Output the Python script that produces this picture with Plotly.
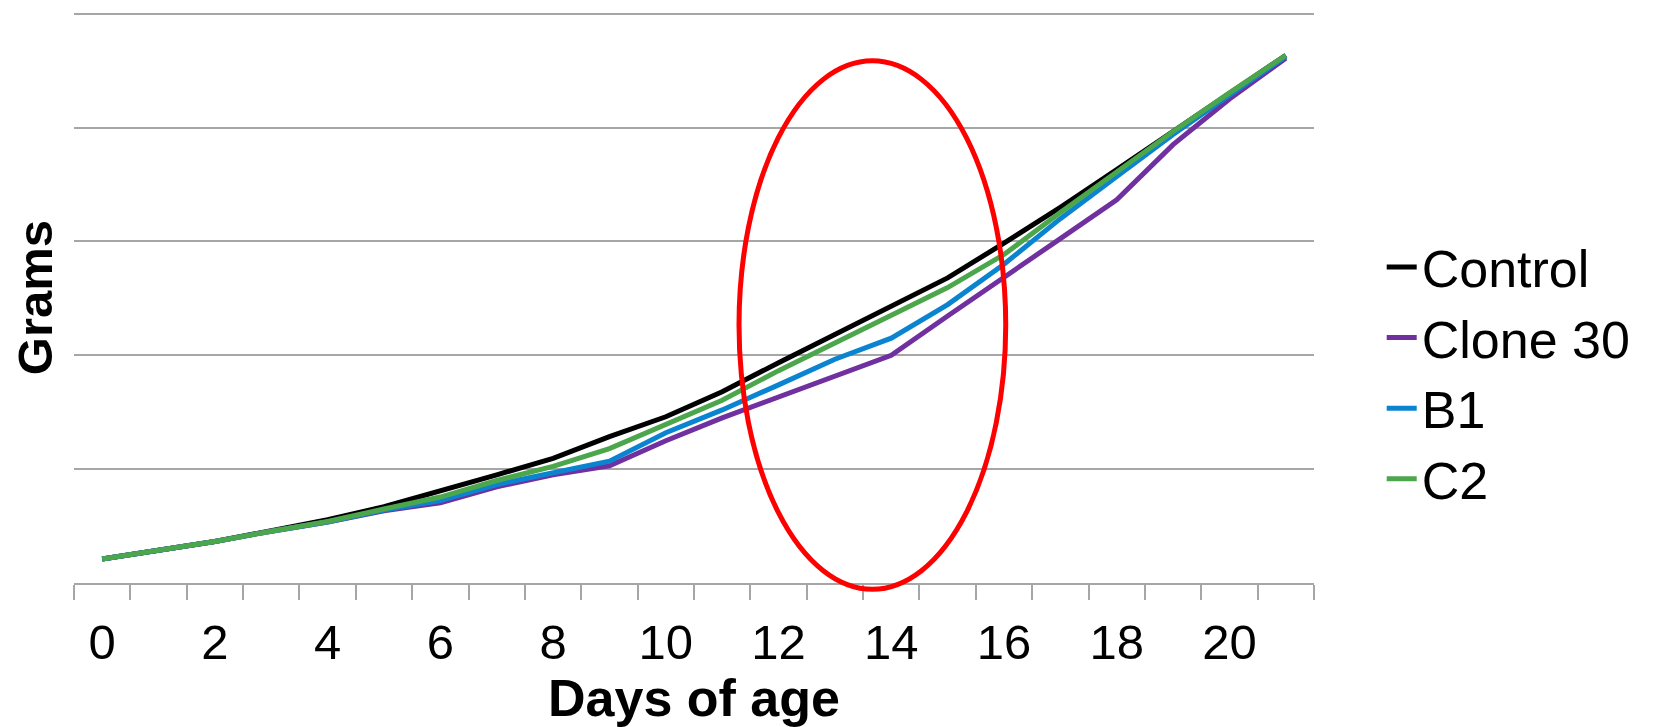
import plotly.graph_objects as go

days = list(range(22))
control = [42, 57, 73, 92, 111, 134, 161, 190, 219, 257, 292, 336, 387, 436, 486, 536, 597, 660, 726, 793, 861, 927]
clone30 = [42, 57, 73, 91, 107, 127, 141, 169, 190, 206, 250, 290, 326, 363, 400, 469, 538, 605, 673, 770, 850, 922]
b1 = [42, 57, 73, 91, 107, 128, 145, 173, 194, 214, 264, 304, 348, 393, 430, 489, 560, 640, 714, 788, 857, 925]
c2 = [42, 57, 73, 91, 108, 130, 151, 180, 205, 236, 279, 321, 373, 421, 470, 519, 577, 651, 722, 793, 861, 927]
tick_days = [0, 2, 4, 6, 8, 10, 12, 14, 16, 18, 20]
tick_labels = [str(d) for d in tick_days]

series = [
    ("Control", control, "#000000"),
    ("Clone 30", clone30, "#7030A0"),
    ("B1", b1, "#0A84D0"),
    ("C2", c2, "#4CA64C"),
]

FONT = "Liberation Sans, Arial, sans-serif"

fig = go.Figure()
for name, vals, col in series:
    fig.add_trace(go.Scatter(x=days, y=vals, name=name, mode="lines",
                             line=dict(color=col, width=5)))

fig.update_layout(
    width=1655, height=719,
    margin=dict(l=66, r=349, t=4, b=144, autoexpand=False),
    paper_bgcolor="white", plot_bgcolor="white",
    font=dict(family=FONT, color="black", size=48),
    showlegend=True,
    legend=dict(x=1.0546, y=0.624, xanchor="left", yanchor="top",
                font=dict(size=52, family=FONT), bgcolor="rgba(0,0,0,0)",
                tracegroupgap=0),
    xaxis=dict(
        range=[-0.5, 21.5], tickmode="array", tickvals=tick_days, ticktext=tick_labels,
        ticks="", ticklabelstandoff=15, automargin=False,
        tickfont=dict(size=49, family=FONT),
        minor=dict(tick0=-0.5, dtick=1, ticks="outside", ticklen=15,
                   tickcolor="#A6A6A6", tickwidth=1.5, showgrid=False),
        showgrid=False, zeroline=False,
        showline=True, linecolor="#A6A6A6", linewidth=2,
        title=dict(text="<b>Days of age</b>", font=dict(size=52, family=FONT), standoff=21),
    ),
    yaxis=dict(
        range=[0, 1003], tickmode="array", tickvals=[200, 400, 600, 800, 1000],
        showticklabels=False, ticks="", automargin=False,
        showgrid=True, gridcolor="#A6A6A6", gridwidth=1.5,
        zeroline=False, showline=False,
        title=dict(text="<b>Grams</b>", font=dict(size=49, family=FONT), standoff=4),
    ),
)

# Red highlight ellipse (paper coordinates)
fig.add_shape(type="circle", xref="paper", yref="paper",
              x0=0.5363, x1=0.7514, y0=-0.011, y1=0.9145,
              line=dict(color="#FF0000", width=5), layer="above")

fig.write_html("out.html")
